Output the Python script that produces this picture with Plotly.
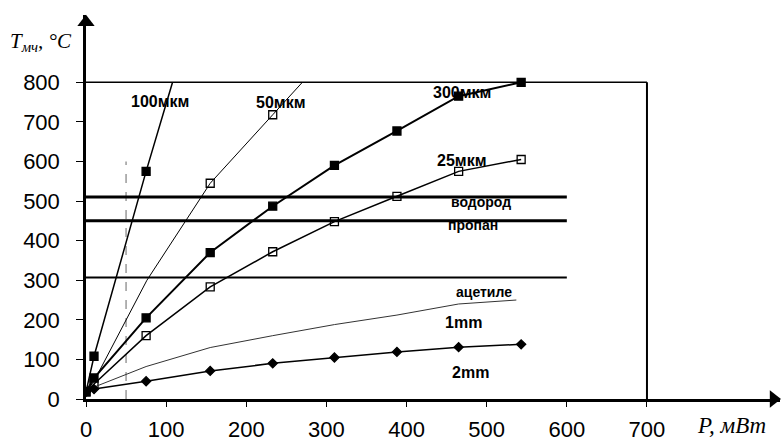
import plotly.graph_objects as go

# ---- data ----
p_100 = [0, 10, 75, 108]
t_100 = [18, 108, 575, 800]
p_50 = [0, 10, 76, 155, 233, 270]
t_50 = [18, 45, 300, 545, 718, 800]
p_300 = [0, 10, 75, 155, 233, 310, 388, 465, 543]
t_300 = [18, 53, 205, 370, 487, 590, 677, 765, 800]
p_25 = [0, 10, 75, 155, 233, 310, 388, 465, 543]
t_25 = [18, 38, 160, 283, 372, 448, 512, 575, 605]
p_1mm = [0, 10, 75, 155, 233, 310, 388, 465, 537]
t_1mm = [18, 30, 82, 130, 160, 188, 212, 240, 250]
p_2mm = [0, 10, 75, 155, 233, 310, 388, 465, 543]
t_2mm = [18, 25, 45, 71, 90, 105, 119, 131, 138]

gas_names = ["водород", "пропан", "ацетиле"]
gas_temps = [510, 450, 307]
gas_pmax = 600
limit_temp = 800
limit_p = 700
dash_p = 50
dash_t = 600

x_ticks = [0, 100, 200, 300, 400, 500, 600, 700]
y_ticks = [0, 100, 200, 300, 400, 500, 600, 700, 800]

X_MAX = 866
Y_MAX = 970

fig = go.Figure()


def line(x, y, w, color="black", dash=None):
    fig.add_trace(go.Scatter(x=x, y=y, mode="lines", line=dict(color=color, width=w, dash=dash),
                             showlegend=False, hoverinfo="skip"))


def marks(x, y, symbol, size=8):
    fig.add_trace(go.Scatter(x=x, y=y, mode="markers",
                             marker=dict(symbol=symbol, size=size, color="black", opacity=1,
                                         line=dict(color="black", width=1.3)),
                             showlegend=False, hoverinfo="skip"))


# limits frame
line([0, limit_p], [limit_temp, limit_temp], 1.5)
line([limit_p, limit_p], [0, limit_temp], 2)
line([dash_p, dash_p], [0, dash_t], 1.5, color="#9a9a9a", dash="dash")
for t, w in zip(gas_temps, [3, 3, 2]):
    line([0, gas_pmax], [t, t], w)

line(p_100, t_100, 1.5)
marks(p_100[:3], t_100[:3], "square")
line(p_50, t_50, 1)
marks(p_50[3:5], t_50[3:5], "square-open")
line(p_300, t_300, 2)
marks(p_300, t_300, "square")
line(p_25, t_25, 1.5)
marks(p_25[1:], t_25[1:], "square-open")
line(p_1mm, t_1mm, 1, color="#333333")
line(p_2mm, t_2mm, 1.5)
marks(p_2mm, t_2mm, "diamond", 7)

# axis arrow heads
fig.add_trace(go.Scatter(x=[0, X_MAX - 8], y=[Y_MAX - 18, 0], mode="markers",
                         marker=dict(symbol=["triangle-up", "triangle-right"], size=15, color="black"),
                         cliponaxis=False, showlegend=False, hoverinfo="skip"))

big = dict(family="Liberation Sans, Arial", size=16, color="black")
small = dict(family="Liberation Sans, Arial", size=14, color="black")
labels = [
    ("100мкм", 92, 752, big), ("50мкм", 243, 749, big), ("300мкм", 469, 773, big),
    ("25мкм", 468, 603, big),
    (gas_names[0], 493, 497, small), (gas_names[1], 483, 439, small), (gas_names[2], 497, 270, small),
    ("1mm", 471, 192, big), ("2mm", 480, 66, big),
]
for txt, x, y, f in labels:
    fig.add_annotation(x=x, y=y, text="<b>%s</b>" % txt, showarrow=False, font=f)

serif = dict(family="Liberation Serif, Times New Roman", size=21, color="black")
# axis titles
fig.add_annotation(xref="paper", yref="paper", x=-0.112, y=0.93, xanchor="left", yanchor="middle",
                   text="<i>T<sub>мч</sub>, °C</i>", showarrow=False, font=serif)
fig.add_annotation(xref="paper", yref="paper", x=0.93, y=-0.07, xanchor="center", yanchor="middle",
                   text="<i>P, мВт</i>", showarrow=False,
                   font=dict(family="Liberation Serif, Times New Roman", size=23, color="black"))

tickfont = dict(family="Liberation Sans, Arial", size=22, color="black")
fig.update_layout(
    width=781, height=443,
    margin=dict(l=86, r=1, t=15, b=44),
    plot_bgcolor="white", paper_bgcolor="white",
    xaxis=dict(range=[0, X_MAX], tickvals=x_ticks, showgrid=False, zeroline=False,
               showline=True, linecolor="black", linewidth=2.5, ticks="outside", ticklen=5,
               tickcolor="black", tickfont=tickfont, ticklabelstandoff=4, fixedrange=True),
    yaxis=dict(range=[0, Y_MAX], tickvals=y_ticks, showgrid=False, zeroline=False,
               showline=True, linecolor="black", linewidth=2.5, ticks="outside", ticklen=7,
               tickcolor="black", tickfont=tickfont, ticklabelstandoff=12, fixedrange=True),
)
fig.write_html("out.html", config={"displayModeBar": False},
               post_script="document.body.style.margin='0';")
